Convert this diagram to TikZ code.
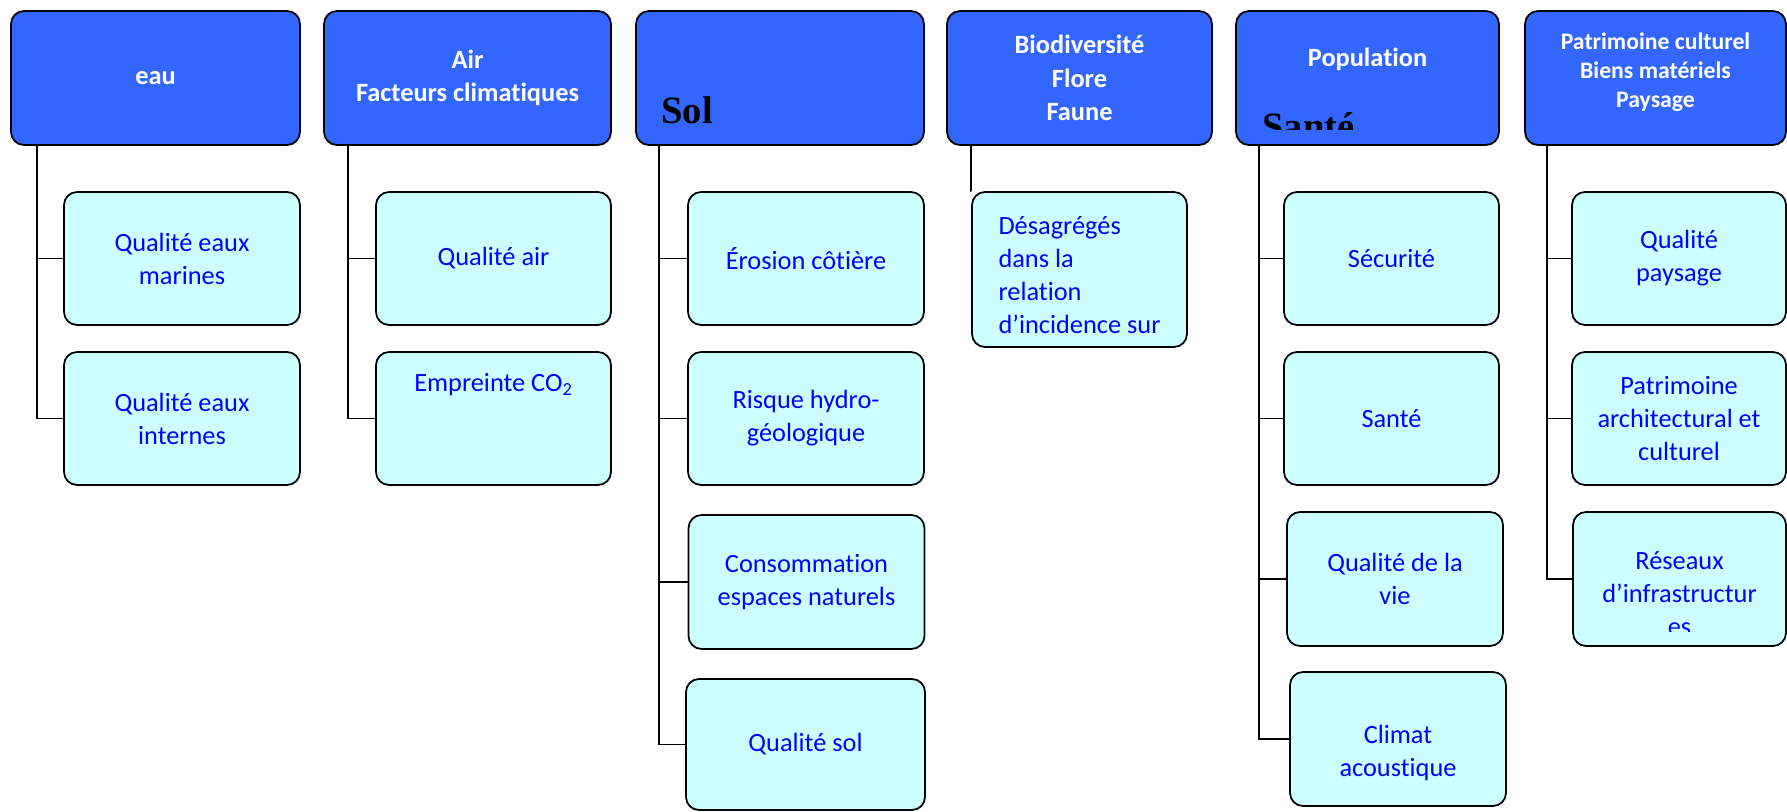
\documentclass[tikz,border=0pt]{standalone}
\usepackage{fontspec}
\setmainfont{Carlito}[Ligatures={NoCommon,NoRequired,NoContextual},Contextuals=NoAlternate]
\newfontfamily\solfont{Liberation Serif}
\usepackage{xcolor}
\usepackage{tikz}
\usetikzlibrary{positioning}
\definecolor{headblue}{RGB}{51,102,255}
\definecolor{itemcyan}{RGB}{204,255,255}
\definecolor{itemblue}{RGB}{0,0,255}
\tikzstyle{head} = [draw, rounded corners=0.26cm, fill=headblue, text=white,
line width=1pt, align=center, minimum height=2.68cm,
font=\bfseries\fontsize{15}{19}\selectfont]
\tikzstyle{item} = [draw, rounded corners=0.26cm, fill=itemcyan, text=itemblue,
line width=1pt, align=center, minimum height=2.66cm,
font=\fontsize{15}{18.8}\selectfont]
\tikzstyle{line} = [draw, line width=0.8pt]

\begin{document}
\begin{tikzpicture}[x=0.02cm, y=-0.02cm,
bigtext/.style={anchor=base west, inner sep=0pt,
font=\solfont\bfseries\fontsize{22}{26}\selectfont},
itemtext/.style={text=itemblue, align=center, font=\fontsize{15}{18.8}\selectfont}]
\useasboundingbox (0,0) rectangle (1787,811);
%% Headers
\node [head, minimum width=5.78cm] (eau) at (155.5,78) {eau};
\node [head, minimum width=5.74cm] (air) at (467.5,78) {Air\\Facteurs climatiques};
\node [head, minimum width=5.76cm] (sol) at (780,78) {};
\node [head, minimum width=5.30cm] (bio) at (1079.5,78) {Biodiversité\\Flore\\Faune};
\node [head, minimum width=5.26cm] (pop) at (1367.5,78) {};
\node [head, minimum width=5.22cm] (pat) at (1655.5,78) {};
\node [text=white, align=center, font=\bfseries\fontsize{13.5}{16.5}\selectfont]
(pattext) at (1655.5,72) {Patrimoine culturel\\Biens matériels\\Paysage};
\node [bigtext] (soltext) at (661,123) {Sol};
\node [text=white, font=\bfseries\fontsize{15}{19}\selectfont] (poptext)
at (1367.5,59) {Population};
\begin{scope}
\clip (1240,100) rectangle (1495,129);
\node [bigtext] (santetext) at (1262,139) {Santé};
\end{scope}
%% Items
\node [item, minimum width=4.72cm] (eau1) at (182,258.5) {Qualité eaux\\marines};
\node [item, minimum width=4.72cm] (eau2) at (182,418.5) {Qualité eaux\\internes};
\node [item, minimum width=4.70cm] (air1) at (493.5,258.5) {Qualité air};
\node [item, minimum width=4.70cm] (air2) at (493.5,418.5) {};
\node [itemtext] (co2text) at (493.5,385) {Empreinte CO\textsubscript{2}};
\node [item, minimum width=4.72cm] (sol1) at (806,258.5) {Érosion côtière};
\node [item, minimum width=4.72cm] (sol2) at (806,418.5) {Risque hydro-\\géologique};
\node [item, minimum width=4.72cm, minimum height=2.68cm] (sol3)
at (806.5,582) {Consommation\\espaces naturels};
\node [item, minimum width=4.78cm, minimum height=2.62cm] (sol4)
at (805.5,744.5) {Qualité sol};
\node [item, align=left, minimum width=4.30cm, minimum height=3.10cm] (bio1)
at (1079.5,269.5) {};
\node [itemtext, align=left] (bio1text) at (1079.5,275)
{Désagrégés\\dans la\\relation\\d’incidence sur};
\node [item, minimum width=4.30cm] (pop1) at (1391.5,258.5) {Sécurité};
\node [item, minimum width=4.30cm] (pop2) at (1391.5,418.5) {Santé};
\node [item, minimum width=4.32cm, minimum height=2.68cm] (pop3)
at (1395,579) {Qualité de la\\vie};
\node [item, minimum width=4.32cm, minimum height=2.68cm] (pop4) at (1398,739) {};
\node [itemtext] (pop4text) at (1398,753) {Climat\\acoustique};
\node [item, minimum width=4.28cm] (pat1) at (1679,258.5) {Qualité\\paysage};
\node [item, minimum width=4.28cm] (pat2) at (1679,418.5)
{Patrimoine\\architectural et\\culturel};
\node [item, minimum width=4.26cm, minimum height=2.68cm] (pat3) at (1679.5,579) {};
\begin{scope}
\clip (1580,520) rectangle (1780,631);
\node [itemtext] (pat3text) at (1679.5,594) {Réseaux\\d’infrastructur\\es};
\end{scope}
%% Links
\path [line] ([xshift=0.54cm]eau.south west) |- (eau1.west);
\path [line] ([xshift=0.54cm]eau.south west) |- (eau2.west);
\path [line] ([xshift=0.50cm]air.south west) |- (air1.west);
\path [line] ([xshift=0.50cm]air.south west) |- (air2.west);
\foreach \k in {1,2,3,4}
  \path [line] ([xshift=0.48cm]sol.south west) |- (sol\k.west);
\path [line] ([xshift=0.50cm]bio.south west) |- (bio1.north west);
\foreach \k in {1,2,3,4}
  \path [line] ([xshift=0.48cm]pop.south west) |- (pop\k.west);
\foreach \k in {1,2,3}
  \path [line] ([xshift=0.46cm]pat.south west) |- (pat\k.west);
\end{tikzpicture}
\end{document}
